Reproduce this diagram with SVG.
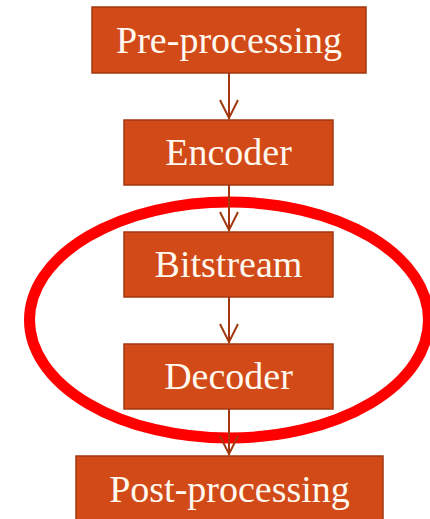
<svg xmlns="http://www.w3.org/2000/svg" width="430" height="519" viewBox="0 0 430 519">
  <defs>
    <style>
      .box { fill: #D24A18; stroke: #A23710; stroke-width: 1.5; }
      .label { font-family: "Liberation Serif", "DejaVu Serif", serif; font-size: 38px; fill: #FFF9EF; text-anchor: middle; }
      .link { stroke: #A23710; stroke-width: 2; fill: none; }
      .highlight { fill: none; stroke: #FF0000; stroke-width: 11; }
    </style>
  </defs>

  <rect width="430" height="519" fill="#FFFFFF"/>

  <!-- decoder-side highlight -->
  <ellipse class="highlight" cx="229" cy="320" rx="199.5" ry="118"/>

  <g id="connectors">
    <line class="link" x1="229" y1="73" x2="229" y2="119"/>
    <line class="link" x1="229" y1="185" x2="229" y2="231"/>
    <line class="link" x1="229" y1="297" x2="229" y2="343"/>
    <line class="link" x1="229" y1="409" x2="229" y2="455"/>
    <path class="link" d="M220 100 L229 118 L238 100"/>
    <path class="link" d="M220 212 L229 230 L238 212"/>
    <path class="link" d="M220 324 L229 342 L238 324"/>
    <path class="link" d="M220 436 L229 454 L238 436"/>
  </g>

  <g id="preprocessing">
    <rect class="box" x="92" y="7" width="274" height="66"/>
    <text class="label" x="229" y="53">Pre-processing</text>
  </g>
  <g id="encoder">
    <rect class="box" x="124" y="120" width="209" height="65"/>
    <text class="label" x="228.5" y="165">Encoder</text>
  </g>
  <g id="bitstream">
    <rect class="box" x="124" y="232" width="209" height="65"/>
    <text class="label" x="228.5" y="277">Bitstream</text>
  </g>
  <g id="decoder">
    <rect class="box" x="124" y="344" width="209" height="65"/>
    <text class="label" x="228.5" y="389">Decoder</text>
  </g>
  <g id="postprocessing">
    <rect class="box" x="76" y="456" width="307" height="70"/>
    <text class="label" x="229.5" y="502">Post-processing</text>
  </g>
</svg>
